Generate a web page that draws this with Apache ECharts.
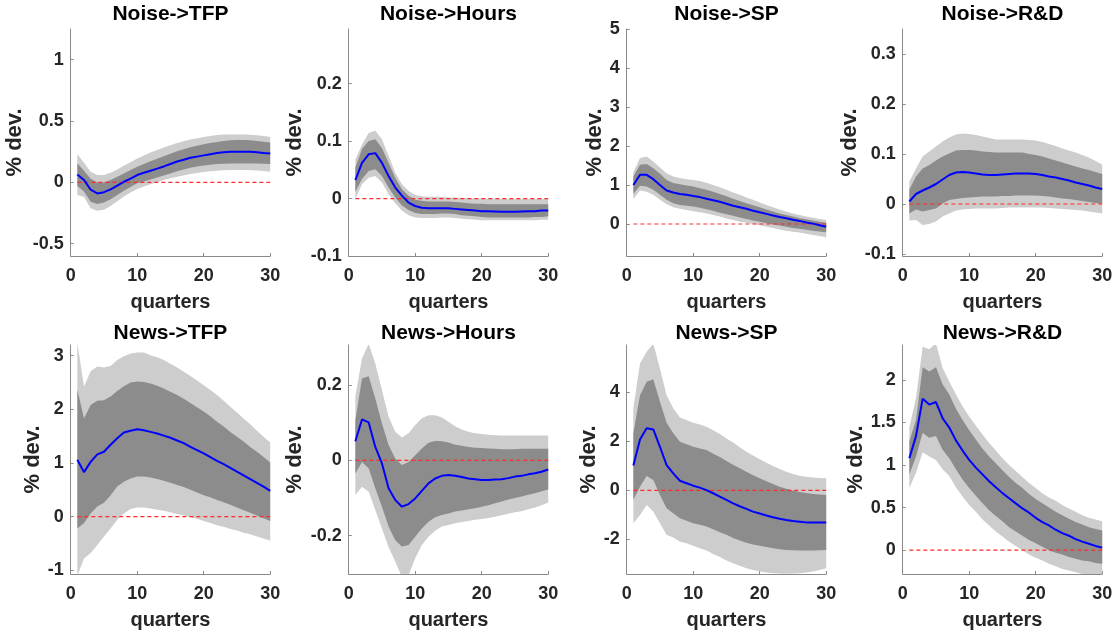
<!DOCTYPE html>
<html><head><meta charset="utf-8">
<script src="https://cdn.jsdelivr.net/npm/echarts@6/dist/echarts.min.js"></script>
<style>html,body{margin:0;padding:0;background:#fff}#c{width:1118px;height:631px}</style>
</head><body><div id="c"></div>
<script>
// ---------------- DATA ----------------
const quarters = [1,2,3,4,5,6,7,8,9,10,11,12,13,14,15,16,17,18,19,20,21,22,23,24,25,26,27,28,29,30];
const xTicks = [0,10,20,30];
const titles = ['Noise->TFP','Noise->Hours','Noise->SP','Noise->R&D','News->TFP','News->Hours','News->SP','News->R&D'];
const xLabel = 'quarters';
const yLabel = '% dev.';

// Noise -> TFP
const nsTFP_med  = [0.065,0.02,-0.06,-0.09,-0.08,-0.057,-0.027,0.005,0.03,0.06,0.078,0.095,0.112,0.13,0.15,0.17,0.185,0.2,0.21,0.22,0.23,0.24,0.245,0.25,0.25,0.25,0.25,0.246,0.24,0.235];
const nsTFP_hi95 = [0.23,0.16,0.087,0.06,0.06,0.078,0.105,0.135,0.165,0.195,0.22,0.243,0.264,0.284,0.302,0.32,0.336,0.35,0.36,0.37,0.378,0.386,0.39,0.39,0.39,0.39,0.388,0.384,0.378,0.37];
const nsTFP_hi68 = [0.155,0.095,0.03,0,0,0.02,0.045,0.073,0.1,0.127,0.15,0.173,0.193,0.213,0.234,0.254,0.27,0.286,0.298,0.31,0.32,0.33,0.337,0.343,0.345,0.346,0.343,0.338,0.332,0.324];
const nsTFP_lo68 = [-0.03,-0.075,-0.157,-0.176,-0.165,-0.138,-0.103,-0.068,-0.037,-0.008,0.008,0.024,0.04,0.057,0.073,0.09,0.105,0.12,0.13,0.138,0.144,0.149,0.152,0.154,0.154,0.154,0.154,0.154,0.152,0.149];
const nsTFP_lo95 = [-0.103,-0.12,-0.21,-0.232,-0.224,-0.192,-0.154,-0.116,-0.083,-0.054,-0.034,-0.016,0.002,0.019,0.033,0.046,0.057,0.068,0.076,0.084,0.09,0.095,0.098,0.1,0.1,0.1,0.099,0.097,0.092,0.086];

// Noise -> Hours
const nsHRS_med  = [0.032,0.062,0.077,0.079,0.062,0.039,0.019,0.005,-0.007,-0.013,-0.016,-0.017,-0.017,-0.017,-0.017,-0.018,-0.019,-0.02,-0.021,-0.022,-0.022,-0.0225,-0.023,-0.023,-0.023,-0.0225,-0.022,-0.022,-0.021,-0.021];
const nsHRS_hi95 = [0.068,0.094,0.114,0.118,0.103,0.074,0.045,0.025,0.013,0.006,0.004,0.003,0.003,0.003,0.002,0.002,0.001,0.0005,0,0,-0.001,-0.001,-0.001,-0.001,-0.001,-0.001,-0.001,-0.001,-0.001,-0.001];
const nsHRS_hi68 = [0.054,0.086,0.1,0.103,0.088,0.062,0.036,0.016,0.005,-0.002,-0.004,-0.005,-0.005,-0.005,-0.005,-0.006,-0.007,-0.008,-0.009,-0.009,-0.01,-0.01,-0.01,-0.01,-0.01,-0.01,-0.01,-0.01,-0.01,-0.01];
const nsHRS_lo68 = [0.012,0.034,0.048,0.051,0.039,0.019,0.002,-0.012,-0.02,-0.025,-0.027,-0.027,-0.027,-0.026,-0.026,-0.027,-0.029,-0.03,-0.031,-0.032,-0.033,-0.033,-0.033,-0.033,-0.033,-0.033,-0.033,-0.032,-0.032,-0.031];
const nsHRS_lo95 = [-0.001,0.025,0.036,0.039,0.028,0.008,-0.008,-0.021,-0.029,-0.033,-0.034,-0.034,-0.034,-0.033,-0.033,-0.034,-0.035,-0.036,-0.037,-0.038,-0.038,-0.038,-0.038,-0.038,-0.038,-0.038,-0.038,-0.038,-0.037,-0.037];

// Noise -> SP
const nsSP_med  = [1.0,1.26,1.26,1.15,1.0,0.86,0.81,0.77,0.75,0.72,0.69,0.65,0.61,0.57,0.52,0.47,0.43,0.39,0.34,0.30,0.26,0.22,0.18,0.15,0.11,0.08,0.04,0.01,-0.03,-0.07];
const nsSP_hi95 = [1.33,1.69,1.73,1.6,1.45,1.3,1.22,1.18,1.15,1.13,1.1,1.06,1.0,0.94,0.88,0.81,0.75,0.68,0.62,0.55,0.49,0.43,0.37,0.32,0.27,0.23,0.19,0.16,0.13,0.1];
const nsSP_hi68 = [1.22,1.52,1.54,1.43,1.29,1.13,1.05,1.02,0.99,0.96,0.92,0.88,0.83,0.77,0.71,0.65,0.59,0.53,0.48,0.43,0.37,0.32,0.27,0.23,0.19,0.15,0.12,0.09,0.06,0.03];
const nsSP_lo68 = [0.77,0.98,0.96,0.88,0.75,0.62,0.53,0.49,0.47,0.45,0.42,0.38,0.34,0.29,0.25,0.21,0.17,0.13,0.09,0.06,0.02,-0.01,-0.04,-0.07,-0.1,-0.12,-0.15,-0.17,-0.19,-0.21];
const nsSP_lo95 = [0.64,0.86,0.83,0.75,0.62,0.51,0.43,0.39,0.36,0.33,0.3,0.27,0.23,0.19,0.14,0.1,0.06,0.03,0.0,-0.03,-0.07,-0.1,-0.14,-0.17,-0.2,-0.22,-0.25,-0.28,-0.31,-0.34];

// Noise -> R&D
const nsRD_med  = [0.005,0.02,0.027,0.033,0.04,0.049,0.058,0.063,0.064,0.063,0.061,0.059,0.058,0.058,0.059,0.06,0.061,0.061,0.061,0.06,0.058,0.055,0.053,0.05,0.047,0.043,0.04,0.037,0.033,0.03];
const nsRD_hi95 = [0.045,0.071,0.095,0.105,0.115,0.125,0.133,0.139,0.141,0.14,0.138,0.135,0.132,0.129,0.129,0.129,0.129,0.129,0.128,0.127,0.124,0.12,0.116,0.111,0.107,0.103,0.098,0.093,0.086,0.079];
const nsRD_hi68 = [0.029,0.055,0.071,0.078,0.087,0.095,0.101,0.107,0.108,0.108,0.107,0.105,0.104,0.103,0.103,0.103,0.103,0.103,0.1,0.098,0.095,0.091,0.087,0.083,0.079,0.075,0.071,0.068,0.064,0.06];
const nsRD_lo68 = [-0.019,-0.011,-0.015,-0.012,-0.009,0.001,0.008,0.01,0.012,0.013,0.014,0.015,0.015,0.015,0.016,0.016,0.017,0.017,0.017,0.017,0.016,0.015,0.013,0.011,0.01,0.008,0.006,0.004,0.002,0];
const nsRD_lo95 = [-0.033,-0.032,-0.042,-0.04,-0.035,-0.025,-0.019,-0.013,-0.011,-0.01,-0.009,-0.009,-0.009,-0.009,-0.008,-0.007,-0.007,-0.007,-0.007,-0.007,-0.007,-0.008,-0.009,-0.01,-0.011,-0.012,-0.013,-0.015,-0.017,-0.019];

// News -> TFP
const nwTFP_med  = [1.06,0.83,1.02,1.16,1.21,1.34,1.46,1.57,1.6,1.63,1.61,1.58,1.55,1.51,1.47,1.42,1.37,1.30,1.24,1.18,1.11,1.04,0.98,0.91,0.84,0.77,0.70,0.63,0.56,0.48];
const nwTFP_hi95 = [3.25,2.42,2.71,2.8,2.78,2.81,2.92,2.99,3.04,3.06,3.06,3.01,2.97,2.92,2.85,2.78,2.70,2.62,2.54,2.45,2.36,2.27,2.16,2.05,1.94,1.83,1.72,1.60,1.49,1.38];
const nwTFP_hi68 = [2.37,1.83,2.08,2.16,2.17,2.24,2.34,2.43,2.5,2.52,2.51,2.48,2.44,2.39,2.33,2.27,2.2,2.12,2.04,1.96,1.87,1.77,1.68,1.58,1.49,1.40,1.30,1.21,1.11,1.01];
const nwTFP_lo68 = [-0.22,-0.12,0.06,0.19,0.26,0.4,0.56,0.65,0.71,0.75,0.75,0.73,0.7,0.67,0.63,0.59,0.55,0.5,0.45,0.4,0.36,0.31,0.27,0.22,0.17,0.12,0.07,0.02,-0.03,-0.08];
const nwTFP_lo95 = [-1.1,-0.78,-0.68,-0.53,-0.37,-0.22,-0.06,0.06,0.14,0.17,0.17,0.15,0.13,0.11,0.08,0.05,0.02,-0.01,-0.04,-0.08,-0.12,-0.16,-0.19,-0.23,-0.26,-0.3,-0.33,-0.37,-0.41,-0.45];

// News -> Hours
const nwHRS_med  = [0.051,0.109,0.101,0.036,-0.008,-0.074,-0.105,-0.123,-0.116,-0.101,-0.081,-0.061,-0.048,-0.041,-0.039,-0.041,-0.044,-0.048,-0.05,-0.052,-0.052,-0.051,-0.05,-0.047,-0.043,-0.041,-0.037,-0.034,-0.03,-0.024];
const nwHRS_hi95 = [0.171,0.271,0.31,0.258,0.187,0.116,0.076,0.061,0.072,0.094,0.112,0.12,0.12,0.114,0.103,0.091,0.082,0.076,0.072,0.07,0.068,0.067,0.066,0.066,0.066,0.066,0.066,0.066,0.066,0.066];
const nwHRS_hi68 = [0.107,0.218,0.224,0.165,0.098,0.041,0.005,-0.012,-0.004,0.014,0.032,0.047,0.052,0.051,0.048,0.042,0.039,0.036,0.034,0.033,0.032,0.031,0.03,0.03,0.03,0.031,0.031,0.031,0.031,0.031];
const nwHRS_lo68 = [-0.035,-0.004,-0.021,-0.074,-0.123,-0.176,-0.212,-0.229,-0.225,-0.203,-0.181,-0.163,-0.151,-0.145,-0.141,-0.136,-0.133,-0.13,-0.127,-0.123,-0.119,-0.114,-0.109,-0.104,-0.1,-0.096,-0.091,-0.087,-0.082,-0.077];
const nwHRS_lo95 = [-0.092,-0.07,-0.083,-0.132,-0.181,-0.231,-0.269,-0.31,-0.305,-0.26,-0.225,-0.203,-0.187,-0.176,-0.172,-0.167,-0.164,-0.161,-0.158,-0.156,-0.153,-0.15,-0.146,-0.142,-0.138,-0.135,-0.13,-0.125,-0.119,-0.112];

// News -> SP
const nwSP_med  = [1.01,2.08,2.54,2.49,1.78,1.03,0.69,0.39,0.29,0.19,0.11,0.01,-0.12,-0.26,-0.39,-0.53,-0.65,-0.76,-0.87,-0.95,-1.03,-1.10,-1.16,-1.21,-1.25,-1.28,-1.31,-1.32,-1.32,-1.32];
const nwSP_hi95 = [3.35,5.18,5.66,6.0,4.98,3.89,3.35,2.98,2.87,2.76,2.69,2.6,2.46,2.3,2.12,1.95,1.76,1.58,1.42,1.27,1.13,0.99,0.87,0.76,0.67,0.6,0.55,0.52,0.5,0.49];
const nwSP_hi68 = [2.33,3.89,4.44,4.54,3.62,2.76,2.33,1.99,1.88,1.78,1.71,1.65,1.5,1.36,1.2,1.05,0.9,0.76,0.62,0.49,0.37,0.26,0.15,0.06,-0.01,-0.07,-0.11,-0.15,-0.17,-0.19];
const nwSP_lo68 = [-0.39,0.15,0.59,0.42,-0.19,-0.73,-0.94,-1.14,-1.24,-1.35,-1.41,-1.48,-1.59,-1.71,-1.82,-1.95,-2.05,-2.14,-2.21,-2.27,-2.32,-2.37,-2.41,-2.44,-2.45,-2.46,-2.46,-2.46,-2.45,-2.44];
const nwSP_lo95 = [-1.35,-1.01,-0.6,-0.87,-1.35,-1.82,-1.93,-2.1,-2.16,-2.27,-2.37,-2.46,-2.6,-2.73,-2.87,-2.98,-3.08,-3.18,-3.26,-3.32,-3.36,-3.39,-3.4,-3.41,-3.4,-3.39,-3.36,-3.32,-3.26,-3.18];

// News -> R&D
const nwRD_med  = [1.08,1.34,1.78,1.71,1.74,1.55,1.44,1.29,1.17,1.06,0.97,0.89,0.81,0.74,0.67,0.61,0.55,0.49,0.44,0.38,0.33,0.29,0.24,0.2,0.17,0.13,0.1,0.075,0.05,0.03];
const nwRD_hi95 = [1.44,1.79,2.39,2.36,2.43,2.14,1.98,1.83,1.69,1.57,1.46,1.36,1.26,1.17,1.08,1.0,0.93,0.86,0.79,0.73,0.67,0.62,0.58,0.53,0.49,0.45,0.41,0.38,0.36,0.34];
const nwRD_hi68 = [1.28,1.53,2.15,2.1,2.15,1.95,1.83,1.66,1.53,1.41,1.3,1.19,1.1,1.02,0.94,0.86,0.79,0.73,0.66,0.6,0.55,0.5,0.45,0.41,0.37,0.33,0.3,0.27,0.25,0.23];
const nwRD_lo68 = [0.89,1.1,1.38,1.32,1.34,1.18,1.08,0.95,0.83,0.73,0.64,0.55,0.47,0.4,0.34,0.27,0.22,0.17,0.12,0.08,0.04,0.0,-0.03,-0.05,-0.08,-0.1,-0.12,-0.13,-0.15,-0.16];
const nwRD_lo95 = [0.73,0.91,1.15,1.1,1.06,0.95,0.87,0.74,0.63,0.53,0.45,0.36,0.29,0.22,0.16,0.1,0.05,0.0,-0.05,-0.09,-0.12,-0.16,-0.19,-0.22,-0.24,-0.26,-0.28,-0.29,-0.3,-0.3];

// y-axis ranges and tick labels
const yRanges = [[-0.6,1.25],[-0.1,0.295],[-0.82,5],[-0.104,0.35],[-1.07,3.2],[-0.302,0.307],[-3.42,5.94],[-0.28,2.41]];
const yTickVals = [[-0.5,0,0.5,1],[-0.1,0,0.1,0.2],[0,1,2,3,4,5],[-0.1,0,0.1,0.2,0.3],[-1,0,1,2,3],[-0.2,0,0.2],[-2,0,2,4],[0,0.5,1,1.5,2]];

const panels = [
  [nsTFP_med,nsTFP_lo95,nsTFP_hi95,nsTFP_lo68,nsTFP_hi68],
  [nsHRS_med,nsHRS_lo95,nsHRS_hi95,nsHRS_lo68,nsHRS_hi68],
  [nsSP_med,nsSP_lo95,nsSP_hi95,nsSP_lo68,nsSP_hi68],
  [nsRD_med,nsRD_lo95,nsRD_hi95,nsRD_lo68,nsRD_hi68],
  [nwTFP_med,nwTFP_lo95,nwTFP_hi95,nwTFP_lo68,nwTFP_hi68],
  [nwHRS_med,nwHRS_lo95,nwHRS_hi95,nwHRS_lo68,nwHRS_hi68],
  [nwSP_med,nwSP_lo95,nwSP_hi95,nwSP_lo68,nwSP_hi68],
  [nwRD_med,nwRD_lo95,nwRD_hi95,nwRD_lo68,nwRD_hi68]
];

// ---------------- LAYOUT ----------------
const FONT = 'Liberation Sans, Arial, Helvetica, sans-serif';
const colLeft = [70.7, 348.7, 626.7, 902.7];
const gridW = 199.5;
const rowTop = [29, 345];
const rowH = [227, 229];
const yNameGap = [45, 43, 21, 39, 27, 43, 24, 34];
const titleTop = [4, 323];
const LIGHT = '#cdcdcd', DARK = '#8c8c8c', AXIS = '#8a8a8a';

function bandSeries(i, lo, hi, color) {
  return {
    type: 'custom', xAxisIndex: i, yAxisIndex: i, clip: true, silent: true, animation: false,
    data: quarters.map((q, k) => [q, lo[k], hi[k]]),
    encode: {x: 0, y: [1, 2]},
    renderItem: (params, api) => {
      if (params.dataIndex !== 0) return null;
      const pts = [];
      for (let k = 0; k < quarters.length; k++) pts.push(api.coord([quarters[k], hi[k]]));
      for (let k = quarters.length - 1; k >= 0; k--) pts.push(api.coord([quarters[k], lo[k]]));
      return {type: 'polygon', shape: {points: pts}, style: {fill: color, stroke: null}};
    }
  };
}

const grid = [], xAxis = [], yAxis = [], series = [], title = [];
panels.forEach((p, i) => {
  const r = Math.floor(i / 4), c = i % 4;
  grid.push({left: colLeft[c], top: rowTop[r], width: gridW, height: rowH[r], containLabel: false, outerBoundsMode: 'none'});
  title.push({text: titles[i], left: colLeft[c] + gridW / 2, top: titleTop[r], textAlign: 'center', padding: 0,
    textStyle: {fontFamily: FONT, fontSize: 21, fontWeight: 'bold', color: '#000'}});
  xAxis.push({type: 'value', gridIndex: i, min: xTicks[0], max: xTicks[xTicks.length - 1], interval: 10,
    name: xLabel, nameLocation: 'middle', nameGap: 36,
    nameTextStyle: {fontFamily: FONT, fontSize: 20, fontWeight: 'bold', color: '#262626'},
    axisLine: {show: true, onZero: false, lineStyle: {color: AXIS, width: 1}},
    axisTick: {show: true, inside: true, length: 3, lineStyle: {color: AXIS}},
    axisLabel: {fontFamily: FONT, fontSize: 18, fontWeight: 'bold', color: '#262626', margin: 11},
    splitLine: {show: false}});
  yAxis.push({type: 'value', gridIndex: i, min: yRanges[i][0], max: yRanges[i][1],
    name: yLabel, nameLocation: 'middle', nameGap: yNameGap[i], nameRotate: 90,
    nameTextStyle: {fontFamily: FONT, fontSize: 22, fontWeight: 'bold', color: '#262626'},
    axisLine: {show: true, onZero: false, lineStyle: {color: AXIS, width: 1}},
    axisTick: {show: true, inside: true, length: 3, customValues: yTickVals[i], lineStyle: {color: AXIS}},
    axisLabel: {fontFamily: FONT, fontSize: 18, fontWeight: 'bold', color: '#262626', margin: 7, customValues: yTickVals[i]},
    splitLine: {show: false}});
  const [med, lo95, hi95, lo68, hi68] = p;
  const common = {type: 'line', xAxisIndex: i, yAxisIndex: i, symbol: 'none', silent: true, animation: false};
  series.push(bandSeries(i, lo95, hi95, LIGHT));
  series.push(bandSeries(i, lo68, hi68, DARK));
  series.push(Object.assign({}, common, {lineStyle: {color: '#ff2a2a', width: 1.2, type: [4, 3]},
    data: [[quarters[0], 0], [quarters[quarters.length - 1], 0]]}));
  series.push(Object.assign({}, common, {lineStyle: {color: '#0000ff', width: 2},
    data: quarters.map((q, k) => [q, med[k]])}));
});

const chart = echarts.init(document.getElementById('c'), null, {renderer: 'canvas'});
chart.setOption({animation: false, backgroundColor: '#fff', title, grid, xAxis, yAxis, series});
</script></body></html>
